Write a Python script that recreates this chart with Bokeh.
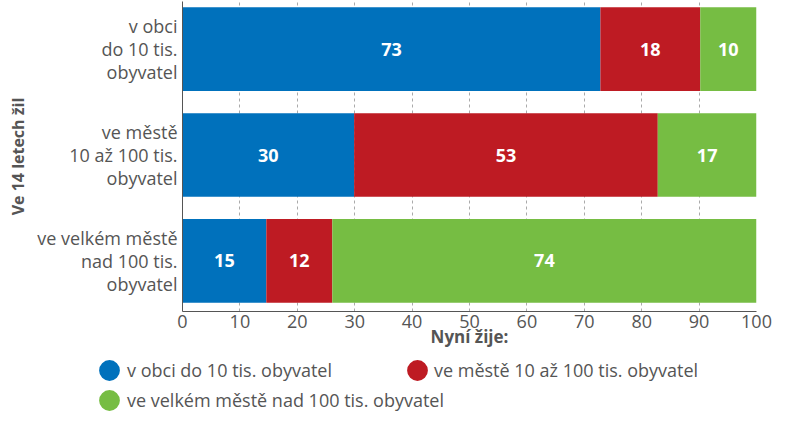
from bokeh.plotting import figure
from bokeh.models import ColumnDataSource, Range1d, FixedTicker, Legend, LegendItem, LabelSet
from bokeh.core.properties import value
from bokeh.embed import file_html
from bokeh.resources import INLINE

# --- data ---
categories = ["v obci\ndo 10 tis.\nobyvatel",
              "ve městě\n10 až 100 tis.\nobyvatel",
              "ve velkém městě\nnad 100 tis.\nobyvatel"]
series_names = ["v obci do 10 tis. obyvatel",
                "ve městě 10 až 100 tis. obyvatel",
                "ve velkém městě nad 100 tis. obyvatel"]
obec = [72.8, 29.9, 14.6]
mesto = [17.4, 52.9, 11.5]
velkomesto = [9.8, 17.2, 73.9]
obec_labels = ["73", "30", "15"]
mesto_labels = ["18", "53", "12"]
velkomesto_labels = ["10", "17", "74"]
x_ticks = [0, 10, 20, 30, 40, 50, 60, 70, 80, 90, 100]
x_title = "Nyní žije:"
y_title = "Ve 14 letech žil"

colors = ["#0071bc", "#be1b23", "#76bd43"]
FONT = "Open Sans"
TXT = "#555555"

n = len(categories)
ypos = [n - 1 - i for i in range(n)]

src = ColumnDataSource(dict(y=ypos, obec=obec, mesto=mesto, velkomesto=velkomesto))

W = 772
p = figure(width=W, height=351, output_backend="svg", toolbar_location=None,
           x_range=Range1d(0, 100), y_range=Range1d(-0.477, 2.449),
           min_border_left=182, min_border_top=1, min_border_right=16, min_border_bottom=40)
p.outline_line_color = None
p.background_fill_color = "white"
p.border_fill_color = "white"

p.hbar_stack(["obec", "mesto", "velkomesto"], y="y", height=0.79, source=src,
             color=colors, line_color=None)

# value labels centred in each segment
lab_x, lab_y, lab_t = [], [], []
for i in range(n):
    start = 0.0
    for vals, labs in ((obec, obec_labels), (mesto, mesto_labels), (velkomesto, velkomesto_labels)):
        lab_x.append(start + vals[i] / 2.0)
        lab_y.append(ypos[i])
        lab_t.append(labs[i])
        start += vals[i]
lsrc = ColumnDataSource(dict(x=lab_x, y=lab_y, t=lab_t))
p.add_layout(LabelSet(x="x", y="y", text="t", source=lsrc, text_align="center",
                      text_baseline="middle", text_color="white", text_font=value(FONT),
                      text_font_style="bold", text_font_size="18px"))

# axes
p.xaxis.ticker = FixedTicker(ticks=x_ticks)
p.yaxis.ticker = FixedTicker(ticks=ypos)
p.yaxis.major_label_overrides = {ypos[i]: categories[i] for i in range(n)}
for ax in (p.xaxis, p.yaxis):
    ax.axis_line_color = "#555555"
    ax.major_tick_line_color = None
    ax.minor_tick_line_color = None
    ax.major_tick_out = 0
    ax.major_tick_in = 0
    ax.minor_tick_out = 0
    ax.major_label_text_font = FONT
    ax.major_label_text_font_size = "18px"
    ax.major_label_text_color = TXT
    ax.axis_label_text_font = FONT
    ax.axis_label_text_font_style = "bold"
    ax.axis_label_text_color = TXT
p.xaxis.axis_label_text_font_size = "17px"
p.yaxis.axis_label_text_font_size = "16px"
p.yaxis.major_label_text_line_height = 0.95
p.xaxis.axis_label = x_title
p.yaxis.axis_label = y_title
p.xaxis.major_label_standoff = 3
p.yaxis.major_label_standoff = 5
p.xaxis.axis_label_standoff = -6
p.yaxis.axis_label_standoff = 5

p.ygrid.grid_line_color = None
p.xgrid.grid_line_color = "#aaaaaa"
p.xgrid.grid_line_dash = "3 3"

# --- legend strip (separate root below) ---
p2 = figure(width=W, height=60, output_backend="svg", toolbar_location=None,
            x_range=Range1d(0, 100), y_range=Range1d(-0.477, 2.449),
            x_axis_type=None, y_axis_type=None,
            min_border=0, min_border_left=0, min_border_right=0,
            min_border_top=0, min_border_bottom=0)
p2.outline_line_color = None
p2.background_fill_color = "white"
p2.border_fill_color = "white"

# near-zero-size ellipses provide circular legend glyphs
rs = []
for k, c in enumerate(colors):
    rs.append(p2.ellipse(x=lab_x[k::3], y=lab_y[k::3], width=0.001, height=0.001,
                         width_units="screen", height_units="screen",
                         fill_color=c, line_color=None))

def make_legend(idx, loc, standoff):
    lg = Legend(items=[LegendItem(label=series_names[idx], renderers=[rs[idx]])],
                location=loc)
    lg.label_text_font = FONT
    lg.label_text_font_size = "18px"
    lg.label_text_color = TXT
    lg.glyph_width = 26
    lg.glyph_height = 26
    lg.label_height = 26
    lg.label_standoff = standoff
    lg.padding = 0
    lg.margin = 0
    lg.spacing = 0
    lg.border_line_color = None
    lg.background_fill_alpha = 0
    p2.add_layout(lg)

make_legend(0, (96, 28), 5)
make_legend(1, (404, 28), 4)
make_legend(2, (96, -2), 5)

open("out.html", "w").write(file_html([p, p2], INLINE))
